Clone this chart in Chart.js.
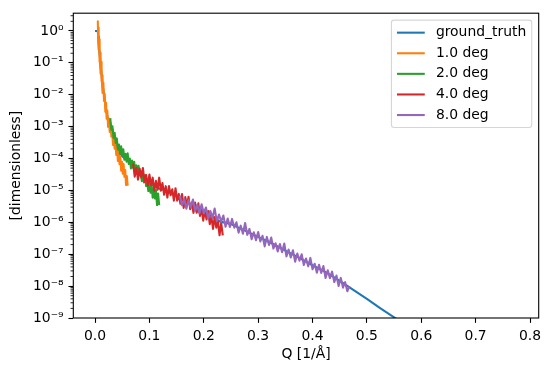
<!DOCTYPE html>
<html><head><meta charset="utf-8">
<script src="https://cdn.jsdelivr.net/npm/chart.js@4/dist/chart.umd.min.js"></script>
<style>html,body{margin:0;padding:0;background:#fff;}canvas{display:block;}</style>
</head><body>
<canvas id="c" width="550" height="372"></canvas>
<script>
const seriesLabels = ['ground_truth', '1.0 deg', '2.0 deg', '4.0 deg', '8.0 deg'];
const seriesColors = ['#1f77b4', '#ff7f0e', '#2ca02c', '#d62728', '#9467bd'];

const qTruth = [0.000,0.004,0.005,0.006,0.007,0.008,0.009,0.010,0.012,0.014,0.017,0.020,0.024,0.028,0.032,0.036,0.040,0.046,0.052,0.060,0.070,0.080,0.090,0.100,0.115,0.130,0.150,0.170,0.190,0.210,0.230,0.250,0.275,0.300,0.325,0.350,0.375,0.400,0.425,0.450,0.475,0.500,0.525,0.550,0.575,0.600,0.650,0.700,0.750,0.778];
const rTruth = [1.0,1.0,0.98,0.65,0.38,0.21,0.15,0.10,0.043,0.02,0.0088,0.0037,0.0016,1.1e-3,6.5e-4,3.8e-4,2.3e-4,1.45e-4,1.1e-4,8.5e-5,5.5e-5,3.7e-5,2.5e-5,1.7e-5,1.2e-5,1.0e-5,6.6e-6,4.1e-6,2.6e-6,1.75e-6,1.05e-6,8.8e-7,5.6e-7,3.5e-7,2.2e-7,1.3e-7,7.8e-8,4.5e-8,2.7e-8,1.45e-8,7.6e-9,4.0e-9,2.0e-9,1.05e-9,5.2e-10,2.5e-10,6e-11,1.4e-11,3e-12,1.3e-12];

const qDeg1 = [0.0045,0.0051,0.0057,0.0063,0.0069,0.0075,0.0081,0.0087,0.0093,0.0099,0.0105,0.0111,0.0117,0.0123,0.0129,0.0135,0.0141,0.0153,0.0165,0.0177,0.0189,0.0201,0.0213,0.0225,0.0240,0.0255,0.0270,0.0285,0.0300,0.0315,0.0330,0.0345,0.0360,0.0375,0.0390,0.0405,0.0420,0.0435,0.0450,0.0465,0.0480,0.0495,0.0510,0.0525,0.0540,0.0555,0.0570,0.0585,0.0600];
const rDeg1 = [1.91,2.02,0.538,1.28,0.259,0.548,0.107,0.299,0.0836,0.207,0.046,0.107,0.0265,0.0708,0.0207,0.0408,0.0113,0.0237,6.38e-3,0.0109,2.94e-3,5.74e-3,1.78e-3,3.21e-3,9.86e-4,1.79e-3,6.78e-4,1.32e-3,4.88e-4,8.07e-4,2.66e-4,4.94e-4,2.03e-4,3.81e-4,1.30e-4,2.13e-4,8.36e-5,1.67e-4,6.68e-5,1.17e-4,4.16e-5,7.96e-5,3.33e-5,6.68e-5,2.67e-5,4.39e-5,1.48e-5,2.82e-5,1.41e-5];

const qDeg2 = [0.028,0.030,0.032,0.034,0.036,0.038,0.040,0.042,0.044,0.046,0.048,0.050,0.052,0.054,0.056,0.058,0.060,0.062,0.064,0.066,0.068,0.070,0.072,0.074,0.076,0.078,0.080,0.082,0.084,0.086,0.088,0.090,0.092,0.094,0.096,0.098,0.100,0.102,0.104,0.106,0.108,0.110,0.112,0.114,0.116,0.118];
const rDeg2 = [1.86e-3,7.94e-4,1.02e-3,4.47e-4,6.46e-4,3.09e-4,4.27e-4,1.93e-4,2.75e-4,1.40e-4,2.40e-4,1.24e-4,1.95e-4,9.12e-5,1.41e-4,7.94e-5,1.45e-4,6.76e-5,1.00e-4,4.90e-5,8.71e-5,5.07e-5,7.94e-5,3.63e-5,6.10e-5,3.24e-5,5.89e-5,2.92e-5,4.07e-5,1.95e-5,3.55e-5,1.78e-5,3.02e-5,1.35e-5,2.09e-5,9.55e-6,1.74e-5,8.51e-6,1.51e-5,5.89e-6,1.15e-5,5.62e-6,1.02e-5,3.47e-6,7.94e-6,3.47e-6];

const qDeg4 = [0.070,0.073,0.076,0.079,0.082,0.085,0.088,0.091,0.094,0.097,0.100,0.103,0.106,0.109,0.112,0.115,0.118,0.121,0.124,0.127,0.130,0.133,0.136,0.139,0.142,0.145,0.148,0.151,0.154,0.157,0.160,0.163,0.166,0.169,0.172,0.175,0.178,0.181,0.184,0.187,0.190,0.193,0.196,0.199,0.202,0.205,0.208,0.211,0.214,0.217,0.220,0.223,0.226,0.229,0.232,0.235];
const rDeg4 = [6.92e-5,2.70e-5,5.06e-5,2.17e-5,4.88e-5,2.51e-5,5.06e-5,1.85e-5,3.03e-5,1.43e-5,3.16e-5,1.45e-5,2.51e-5,9.77e-6,2.00e-5,1.05e-5,2.51e-5,9.77e-6,1.70e-5,7.28e-6,1.36e-5,5.96e-6,1.37e-5,7.03e-6,1.09e-5,4.79e-6,1.17e-5,4.79e-6,7.76e-6,3.80e-6,7.76e-6,2.82e-6,6.17e-6,3.39e-6,6.31e-6,2.57e-6,4.20e-6,1.98e-6,4.16e-6,2.00e-6,3.94e-6,1.58e-6,2.70e-6,1.13e-6,2.44e-6,1.23e-6,2.24e-6,8.73e-7,1.52e-6,6.18e-7,1.45e-6,6.79e-7,1.08e-6,3.92e-7,9.40e-7,3.92e-7];

const qDeg8 = [0.156,0.160,0.164,0.168,0.172,0.176,0.180,0.184,0.188,0.192,0.196,0.200,0.204,0.208,0.212,0.216,0.220,0.224,0.228,0.232,0.236,0.240,0.244,0.248,0.252,0.256,0.260,0.264,0.268,0.272,0.276,0.280,0.284,0.288,0.292,0.296,0.300,0.304,0.308,0.312,0.316,0.320,0.324,0.328,0.332,0.336,0.340,0.344,0.348,0.352,0.356,0.360,0.364,0.368,0.372,0.376,0.380,0.384,0.388,0.392,0.396,0.400,0.404,0.408,0.412,0.416,0.420,0.424,0.428,0.432,0.436,0.440,0.444,0.448,0.452,0.456,0.460,0.464,0.468];
const rDeg8 = [6.76e-6,3.41e-6,5.31e-6,2.68e-6,5.02e-6,2.91e-6,5.20e-6,2.29e-6,3.56e-6,1.92e-6,3.69e-6,1.91e-6,2.92e-6,1.32e-6,2.28e-6,1.36e-6,2.69e-6,1.09e-6,1.75e-6,1.04e-6,1.64e-6,7.24e-7,1.31e-6,7.11e-7,1.28e-6,6.82e-7,1.00e-6,4.75e-7,7.85e-7,4.39e-7,9.53e-7,4.05e-7,6.22e-7,2.96e-7,4.89e-7,2.73e-7,4.93e-7,2.52e-7,3.78e-7,1.76e-7,3.49e-7,1.95e-7,3.34e-7,1.51e-7,2.20e-7,1.22e-7,2.09e-7,1.16e-7,2.17e-7,8.53e-8,1.40e-7,7.93e-8,1.33e-7,5.85e-8,1.05e-7,6.24e-8,9.98e-8,4.60e-8,7.36e-8,4.17e-8,7.66e-8,3.37e-8,5.04e-8,2.61e-8,4.68e-8,2.59e-8,4.25e-8,1.79e-8,3.13e-8,1.78e-8,2.84e-8,1.34e-8,2.14e-8,1.01e-8,1.81e-8,8.95e-9,1.33e-8,6.90e-9,1.00e-8];

const xTicks = [0.0, 0.1, 0.2, 0.3, 0.4, 0.5, 0.6, 0.7, 0.8];
const xTickLabels = ['0.0', '0.1', '0.2', '0.3', '0.4', '0.5', '0.6', '0.7', '0.8'];
const yTicks = [1e-9, 1e-8, 1e-7, 1e-6, 1e-5, 1e-4, 1e-3, 1e-2, 1e-1, 1e0];
const yTickLabels = ['10\u207B\u2079', '10\u207B\u2078', '10\u207B\u2077', '10\u207B\u2076', '10\u207B\u2075', '10\u207B\u2074', '10\u207B\u00B3', '10\u207B\u00B2', '10\u207B\u00B9', '10\u2070'];
const xTitle = 'Q [1/Å]';
const yTitle = '[dimensionless]';

const FS = 13.9;
const FONT = "'DejaVu Sans', sans-serif";
Chart.defaults.font.family = FONT;
Chart.defaults.font.size = FS;
Chart.defaults.color = '#000';

const qs = [qTruth, qDeg1, qDeg2, qDeg4, qDeg8];
const rs = [rTruth, rDeg1, rDeg2, rDeg4, rDeg8];

const datasets = seriesLabels.map((lab, i) => ({
  label: lab,
  data: qs[i].map((q, j) => ({x: q, y: rs[i][j]})),
  borderColor: seriesColors[i],
  backgroundColor: seriesColors[i],
  borderWidth: 2.08,
  borderJoinStyle: 'round',
  pointRadius: 0,
  tension: 0,
  fill: false,
  clip: 0,
  order: seriesLabels.length - i
}));

const decor = {
  id: 'decor',
  beforeDatasetsDraw(chart) {
    const y = chart.scales.y, ctx = chart.ctx, left = chart.chartArea.left;
    ctx.save();
    ctx.strokeStyle = '#000';
    ctx.lineWidth = 0.83;
    for (let k = -9; k <= 0; k++) {
      for (let m = 2; m <= 9; m++) {
        const v = m * Math.pow(10, k);
        if (v < y.min || v > y.max) continue;
        const p = y.getPixelForValue(v);
        ctx.beginPath();
        ctx.moveTo(left - 2.78, p);
        ctx.lineTo(left, p);
        ctx.stroke();
      }
    }
    ctx.restore();
  },
  afterDatasetsDraw(chart) {
    const a = chart.chartArea, ctx = chart.ctx;
    ctx.save();
    ctx.strokeStyle = '#000';
    ctx.lineWidth = 1.1;
    ctx.lineJoin = 'miter';
    ctx.strokeRect(a.left, a.top, a.right - a.left, a.bottom - a.top);
    ctx.restore();
  },
  afterDraw(chart) {
    const a = chart.chartArea, ctx = chart.ctx;
    ctx.save();
    ctx.font = FS + 'px ' + FONT;
    const pad = 0.4 * FS, hl = 2 * FS, htp = 0.8 * FS, rowH = FS, sp = 6.7;
    let tw = 0;
    chart.data.datasets.forEach(d => { tw = Math.max(tw, ctx.measureText(d.label).width); });
    const w = pad + hl + htp + tw + pad;
    const n = chart.data.datasets.length;
    const h = 2 * pad + n * rowH + (n - 1) * sp;
    const x0 = a.right - 0.5 * FS - w, y0 = a.top + 0.5 * FS;
    const r = 0.2 * FS;
    ctx.beginPath();
    ctx.moveTo(x0 + r, y0);
    ctx.arcTo(x0 + w, y0, x0 + w, y0 + h, r);
    ctx.arcTo(x0 + w, y0 + h, x0, y0 + h, r);
    ctx.arcTo(x0, y0 + h, x0, y0, r);
    ctx.arcTo(x0, y0, x0 + w, y0, r);
    ctx.closePath();
    ctx.fillStyle = 'rgba(255,255,255,0.8)';
    ctx.fill();
    ctx.strokeStyle = 'rgba(204,204,204,0.8)';
    ctx.lineWidth = 1.1;
    ctx.stroke();
    chart.data.datasets.forEach((d, i) => {
      const cy = y0 + pad + rowH / 2 + i * (rowH + sp);
      ctx.strokeStyle = d.borderColor;
      ctx.lineWidth = 2.08;
      ctx.beginPath();
      ctx.moveTo(x0 + pad, cy);
      ctx.lineTo(x0 + pad + hl, cy);
      ctx.stroke();
      ctx.fillStyle = '#000';
      ctx.textBaseline = 'middle';
      ctx.textAlign = 'left';
      ctx.fillText(d.label, x0 + pad + hl + htp, cy);
    });
    ctx.restore();
  }
};

new Chart(document.getElementById('c'), {
  type: 'line',
  data: {datasets},
  options: {
    responsive: false,
    animation: false,
    devicePixelRatio: 1,
    layout: {padding: {left: 0, right: 11.3, top: 10.7, bottom: 0}},
    plugins: {legend: {display: false}, tooltip: {enabled: false}},
    scales: {
      x: {
        type: 'linear',
        min: -0.04,
        max: 0.816,
        bounds: 'data',
        afterBuildTicks: s => { s.ticks = xTicks.map(v => ({value: v})); },
        afterFit: s => { s.height = 54; },
        ticks: {callback: (v, i) => xTickLabels[i], color: '#000', padding: 4.86, autoSkip: false, maxRotation: 0, font: {size: FS}},
        grid: {display: true, drawOnChartArea: false, drawTicks: true, tickLength: 4.86, tickWidth: 1.1, tickColor: '#000', color: '#000'},
        border: {display: false},
        title: {display: true, text: xTitle, color: '#000', font: {size: FS}, padding: {top: 0, bottom: 9}}
      },
      y: {
        type: 'logarithmic',
        min: 1e-9,
        max: 3.6,
        bounds: 'data',
        afterBuildTicks: s => { s.ticks = yTicks.map(v => ({value: v})); },
        afterFit: s => { s.width = 73.3; },
        ticks: {callback: (v, i) => yTickLabels[i], color: '#000', padding: 4.86, autoSkip: false, font: {size: FS}},
        grid: {display: true, drawOnChartArea: false, drawTicks: true, tickLength: 4.86, tickWidth: 1.1, tickColor: '#000', color: '#000'},
        border: {display: false},
        title: {display: true, text: yTitle, color: '#000', font: {size: FS}, padding: {top: 8.2, bottom: 0}}
      }
    }
  },
  plugins: [decor]
});
</script>
</body></html>
